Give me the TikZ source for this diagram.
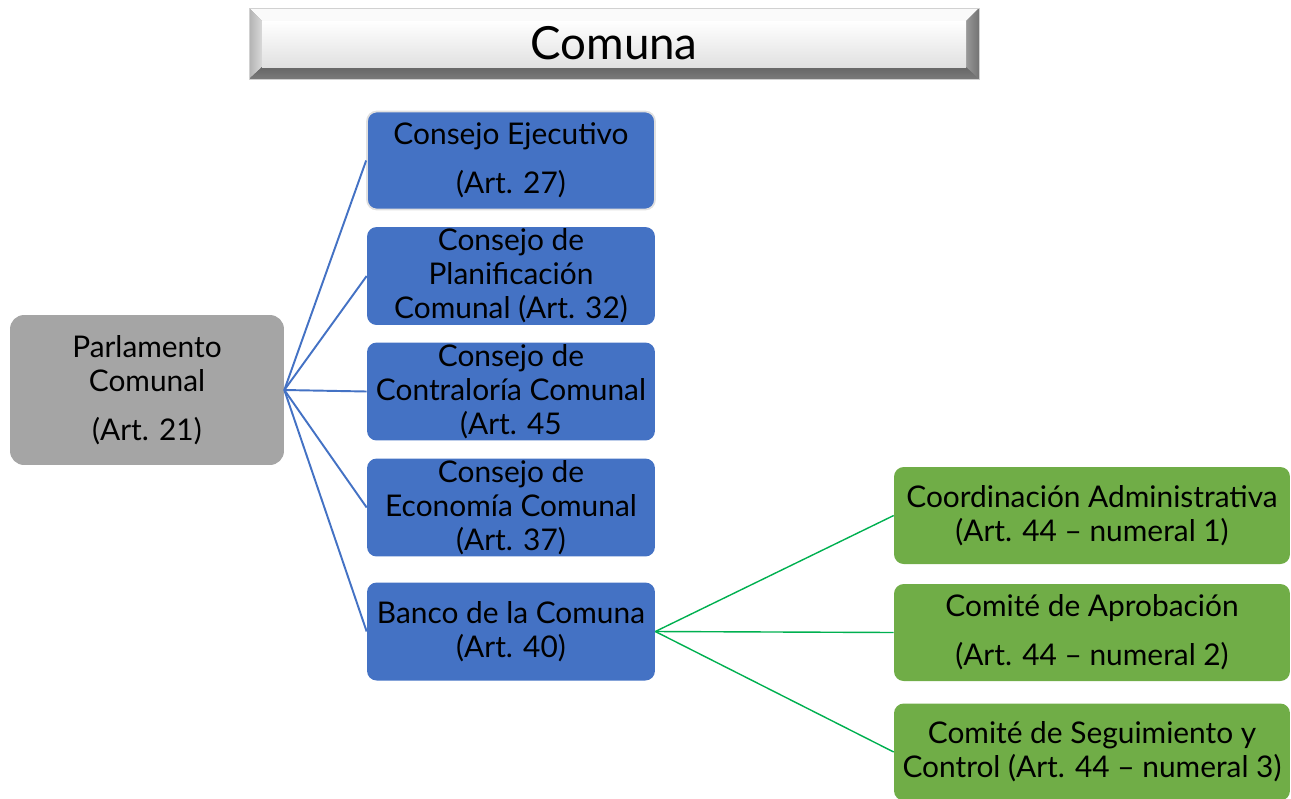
\documentclass[tikz,border=0pt]{standalone}
\usepackage{fontspec}
\setmainfont{Lato}

\definecolor{councilblue}{HTML}{4472C4}
\definecolor{committeegreen}{HTML}{70AD47}
\definecolor{parlgrey}{HTML}{A5A5A5}
\definecolor{linkgreen}{HTML}{00B050}

\tikzset{
  orgbox/.style={align=center, inner sep=1pt, rounded corners=5.5pt,
    font=\fontsize{17}{19.3}\selectfont},
  council/.style={orgbox, fill=councilblue, minimum width=5.76cm, minimum height=1.96cm},
  committee/.style={orgbox, fill=committeegreen, minimum width=7.92cm, minimum height=1.94cm},
  parliament/.style={orgbox, fill=parlgrey, minimum width=5.48cm, minimum height=3cm, rounded corners=8pt},
  bluelink/.style={draw=councilblue, line width=1.1pt},
  greenlink/.style={draw=linkgreen, line width=.8pt},
}

\begin{document}
\begin{tikzpicture}[x=.02cm,y=-.02cm]
    \useasboundingbox (0,0) rectangle (1291,798);

    % bevelled title bar
    \fill[black!45] (249,8) rectangle (979,79);
    \fill[black!2] (249,8) -- (979,8) -- (966,21) -- (262,21) -- cycle;
    \shade[left color=black!30, right color=black!15] (249,8) -- (262,21) -- (262,67) -- (249,79) -- cycle;
    \shade[left color=black!40, right color=black!55] (979,8) -- (966,21) -- (966,67) -- (979,79) -- cycle;
    \shade[top color=black!60, bottom color=black!52] (249,79) -- (262,67) -- (966,67) -- (979,79) -- cycle;
    \shade[top color=white, bottom color=black!12] (262,21) rectangle (966,67);
    \draw[black!18] (249,8) rectangle (979,79);
    \node (title) at (614,43) {\fontsize{26}{28}\selectfont Comuna};

    \node[parliament] (parlamento) at (147,390) {Parlamento\\Comunal\\[.3cm](Art. 21)};

    \node[council, draw=black!12, line width=1pt] (ejecutivo) at (511,160.5) {Consejo Ejecutivo\\[.3cm](Art. 27)};
    \node[council] (planificacion) at (511,276) {Consejo de\\Planificación\\Comunal (Art. 32)};
    \node[council] (contraloria) at (511,391.5) {Consejo de\\Contraloría Comunal\\(Art. 45};
    \node[council] (economia) at (511,507.5) {Consejo de\\Economía Comunal\\(Art. 37)};
    \node[council] (banco) at (511,631.5) {Banco de la Comuna\\(Art. 40)};

    \node[committee] (coordinacion) at (1092,515.5) {Coordinación Administrativa\\(Art. 44 -- numeral 1)};
    \node[committee] (aprobacion) at (1092,632.5) {Comité de Aprobación\\[.3cm](Art. 44 -- numeral 2)};
    \node[committee] (seguimiento) at (1092,752) {Comité de Seguimiento y\\Control (Art. 44 -- numeral 3)};

    \foreach \c in {ejecutivo,planificacion,contraloria,economia,banco}
      \draw[bluelink] (parlamento.east) -- (\c.west);
    \foreach \c in {coordinacion,aprobacion,seguimiento}
      \draw[greenlink] (banco.east) -- (\c.west);
\end{tikzpicture}
\end{document}
